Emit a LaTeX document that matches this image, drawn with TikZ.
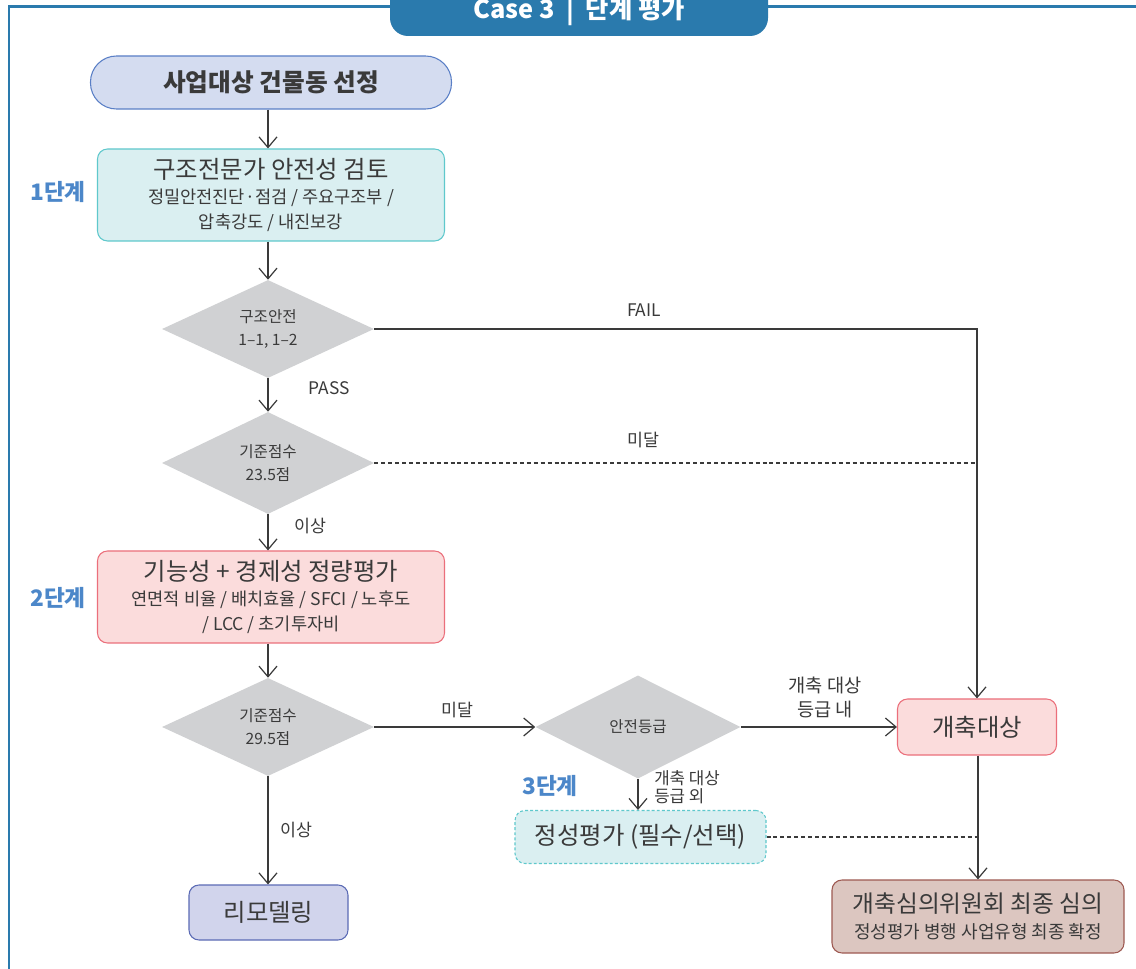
\documentclass[tikz,border=0pt]{standalone}
\usepackage{fontspec}
\setmainfont{Noto Sans CJK KR}
\usetikzlibrary{arrows.meta,shapes.geometric}
\definecolor{tabblue}{HTML}{2A7AAD}
\definecolor{txt}{HTML}{3A3A3A}
\definecolor{stepblue}{HTML}{4C87C9}
\definecolor{pillfill}{HTML}{D4DCF0}
\definecolor{pillline}{HTML}{5A7FC6}
\definecolor{cyanfill}{HTML}{DAEFF1}
\definecolor{cyanline}{HTML}{5FC8CC}
\definecolor{pinkfill}{HTML}{FBDCDC}
\definecolor{pinkline}{HTML}{EB6F7B}
\definecolor{brownfill}{HTML}{DCC6C0}
\definecolor{brownline}{HTML}{9E5A52}
\definecolor{lavfill}{HTML}{D1D4EC}
\definecolor{lavline}{HTML}{5B6BB5}
\definecolor{dgray}{HTML}{D0D1D3}
\tikzset{
  px/.style={x=0.75pt,y=-0.75pt},
  box/.style={rectangle, rounded corners=7.5pt, line width=0.8pt, text=txt, align=center, inner sep=0pt},
  sbox/.style={box, font=\fontsize{13.2}{18.7}\selectfont},
  dia/.style={diamond, fill=dgray, inner sep=0pt, aspect=2.1, text=txt, align=center,
     font=\fontsize{11.7}{17}\selectfont},
  arr/.style={draw=txt, line width=0.9pt, -{Straight Barb[length=8pt,width=13.5pt,line width=0.9pt]}},
  ln/.style={draw=txt, line width=0.9pt},
  dln/.style={draw=txt, line width=0.9pt, dash pattern=on 3pt off 2.2pt},
  lbl/.style={text=txt, font=\fontsize{13}{17}\selectfont, align=center, inner sep=0pt},
  steplbl/.style={text=stepblue, font=\bfseries\fontsize{17}{19}\selectfont, inner sep=0pt},
  big/.style={font=\fontsize{18.3}{22}\selectfont},
}
\newcommand{\bigt}[1]{{\fontsize{18.3}{22}\selectfont #1}}
\begin{document}
\begin{tikzpicture}[px]
\useasboundingbox (0,0) rectangle (1136,969);
\clip (0,0) rectangle (1136,969);
\fill[white] (0,0) rectangle (1136,969);
% frame
\draw[tabblue, line width=2.2pt] (9,980) -- (9,6.5) -- (1150,6.5);
% tab
\fill[tabblue, rounded corners=13.5pt] (390,-40) rectangle (768,36);
\node[text=white, font=\bfseries\fontsize{19}{21}\selectfont, inner sep=0pt] (tab) at (579,11) {Case 3 \ | \ 단계 평가};

% nodes
\node[box, fill=pillfill, draw=pillline, rounded corners=19.5pt, minimum width=361*0.75pt, minimum height=53*0.75pt,
  font=\bfseries\fontsize{18.5}{20}\selectfont] (s0) at (271,82.5) {사업대상 건물동 선정};
\node[sbox, fill=cyanfill, draw=cyanline, minimum width=347*0.75pt, minimum height=92*0.75pt] (b1) at (271,195)
  {\bigt{구조전문가 안전성 검토}\\[0pt]정밀안전진단·점검 / 주요구조부 /\\압축강도 / 내진보강};
\node[steplbl] (st1) at (58,192) {1단계};

\node[dia, minimum width=212*0.75pt, minimum height=98*0.75pt] (d1) at (268,329) {구조안전\\1–1, 1–2};
\node[dia, minimum width=212*0.75pt, minimum height=102*0.75pt] (d2) at (268,463) {기준점수\\23.5점};

\node[sbox, fill=pinkfill, draw=pinkline, minimum width=347*0.75pt, minimum height=92*0.75pt] (b2) at (271,597)
  {\bigt{기능성 + 경제성 정량평가}\\[0pt]연면적 비율 / 배치효율 / SFCI / 노후도\\/ LCC / 초기투자비};
\node[steplbl] (st2) at (58,598) {2단계};

\node[dia, minimum width=212*0.75pt, minimum height=98*0.75pt] (d3) at (268,727) {기준점수\\29.5점};
\node[dia, minimum width=205*0.75pt, minimum height=103*0.75pt] (d4) at (638,727) {안전등급};

\node[box, fill=pinkfill, draw=pinkline, minimum width=159*0.75pt, minimum height=56*0.75pt, big] (k) at (977,727) {개축대상};
\node[steplbl] (st3) at (550,786) {3단계};
\node[box, fill=cyanfill, draw=cyanline, dash pattern=on 2.2pt off 1.6pt, minimum width=251*0.75pt, minimum height=53*0.75pt, big] (q) at (640.5,837) {정성평가 (필수/선택)};
\node[sbox, fill=brownfill, draw=brownline, minimum width=292*0.75pt, minimum height=73*0.75pt, font=\fontsize{13.5}{18.7}\selectfont] (f) at (978,916.5)
  {{\fontsize{17.8}{22}\selectfont 개축심의위원회 최종 심의}\\[1pt]정성평가 병행 사업유형 최종 확정};
\node[box, fill=lavfill, draw=lavline, minimum width=159*0.75pt, minimum height=55*0.75pt, big] (r) at (268.5,912.5) {리모델링};

% connectors
\draw[arr] (s0.south -| d1.north) -- (b1.north -| d1.north);
\draw[arr] (b1.south -| d1.north) -- (d1.north);
\draw[arr] (d1.east) -| (k.north);
\node[lbl] (lfail) at (644,310) {FAIL};
\draw[arr] (d1.south) -- (d2.north);
\node[lbl] (lpass) at (329,388) {PASS};
\coordinate (m1) at (d2.east -| k.north);
\draw[dln] (d2.east) -- (m1);
\node[lbl] (lm1) at (643,440) {미달};
\draw[arr] (d2.south) -- (b2.north -| d2.south);
\node[lbl] (li1) at (310,526) {이상};
\draw[arr] (b2.south -| d3.north) -- (d3.north);
\draw[arr] (d3.east) -- (d4.west);
\node[lbl] (lm2) at (457,710) {미달};
\draw[arr] (d4.east) -- (k.west);
\node[lbl, font=\fontsize{14}{18}\selectfont] (lin) at (825,697) {개축 대상\\등급 내};
\draw[arr] (d4.south) -- (q.north -| d4.south);
\node[lbl, font=\fontsize{12.6}{13.5}\selectfont, anchor=west, align=left] (lout) at (654,787) {개축 대상\\등급 외};
\draw[arr] (k.south -| f.north) -- (f.north);
\coordinate (m2) at (q.east -| f.north);
\draw[dln] (q.east) -- (m2);
\draw[arr] (d3.south) -- (r.north -| d3.south);
\node[lbl] (li2) at (296,830) {이상};
\end{tikzpicture}
\end{document}
